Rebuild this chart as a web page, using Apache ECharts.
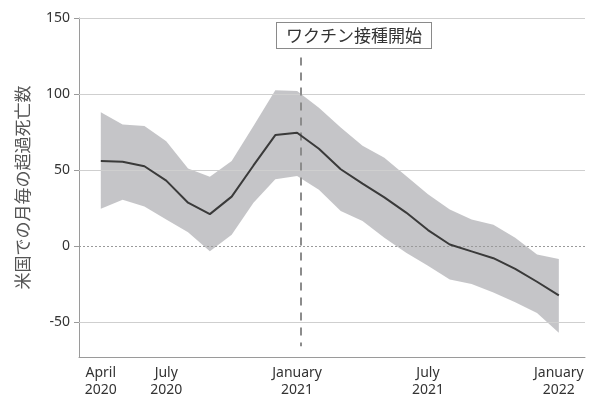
<!DOCTYPE html>
<html>
<head>
<meta charset="utf-8">
<script src="https://cdn.jsdelivr.net/npm/echarts@6/dist/echarts.min.js"></script>
<style>
html,body{margin:0;padding:0;background:#fff;}
#chart{width:590px;height:398px;}
</style>
</head>
<body>
<div id="chart"></div>
<script>
// months from April 2020 to January 2022 (position index = order in this list)
const months = ['2020-04','2020-05','2020-06','2020-07','2020-08','2020-09','2020-10','2020-11','2020-12',
                '2021-01','2021-02','2021-03','2021-04','2021-05','2021-06','2021-07','2021-08','2021-09',
                '2021-10','2021-11','2021-12','2022-01'];
const meanValues  = [56, 55.5, 52.5, 43, 28.5, 21, 32.5, 53, 73, 74.5, 64, 50.5, 41, 32, 22, 10.5, 1, -3.5, -8, -15, -23.5, -32.5];
const upperValues = [88, 80, 79, 69, 51, 45.5, 56, 79, 102.5, 102, 91, 78, 66, 58, 46, 34, 24, 17.5, 14, 5.5, -5.5, -8.5];
const lowerValues = [24.5, 30.5, 26, 17.5, 9, -3.5, 7.5, 28.5, 44, 46, 37, 23, 16.5, 5.5, -4.5, -13, -22, -25, -30.5, -37, -44, -57];
const tickMonths  = ['2020-04','2020-07','2021-01','2021-07','2022-01'];
const tickLabels  = ['April\n2020','July\n2020','January\n2021','July\n2021','January\n2022'];
const yTicks      = [-50, 0, 50, 100, 150];
const vaccineMonthPos = 9.15; // position of the vaccination start marker (month index)
const vaccineLabel = 'ワクチン接種開始';
const yAxisTitle = '米国での月毎の超過死亡数';

const idx = m => months.indexOf(m);
const bandRows  = months.map((m, i) => [i, lowerValues[i], upperValues[i]]);
const meanData  = months.map((m, i) => [i, meanValues[i]]);
const tickPos   = tickMonths.map(idx);

const font = '"Noto Sans", "Noto Sans CJK JP", sans-serif';
const chart = echarts.init(document.getElementById('chart'), null, {renderer: 'canvas'});
chart.setOption({
  animation: false,
  grid: {left: 79, right: 5, top: 18, bottom: 41, containLabel: false, outerBoundsMode: 'none'},
  xAxis: {
    type: 'value', min: -1, max: 22.2,
    axisLine: {show: true, onZero: false, lineStyle: {color: '#9a9a9a', width: 1}},
    axisTick: {show: false},
    splitLine: {show: false},
    axisLabel: {
      customValues: tickPos,
      formatter: v => tickLabels[tickPos.indexOf(Math.round(v))] || '',
      color: '#333', fontSize: 14, fontFamily: font, lineHeight: 17, margin: 8, align: 'center'
    }
  },
  yAxis: {
    type: 'value', min: -73, max: 150,
    name: yAxisTitle, nameLocation: 'middle', nameRotate: 90, nameGap: 46,
    nameTextStyle: {color: '#555', fontSize: 17, fontFamily: font},
    axisLine: {show: true, onZero: false, lineStyle: {color: '#9a9a9a', width: 1}},
    axisTick: {show: true, customValues: yTicks, length: 5, lineStyle: {color: '#9a9a9a'}},
    splitLine: {show: false},
    axisLabel: {customValues: yTicks, color: '#333', fontSize: 14, fontFamily: font, margin: 9}
  },
  graphic: [{
    type: 'text', left: 276, top: 22, z: 100,
    style: {
      text: vaccineLabel, fill: '#333', font: '17px "Noto Sans CJK JP", sans-serif',
      backgroundColor: '#fff', borderColor: '#8a8a8a', borderWidth: 1, padding: [4, 9, 4, 9]
    }
  }],
  series: [
    {
      type: 'custom', silent: true, z: 2,
      data: [0],
      renderItem: function (params, api) {
        const top = bandRows.map(r => api.coord([r[0], r[2]]));
        const bottom = bandRows.slice().reverse().map(r => api.coord([r[0], r[1]]));
        return {
          type: 'polygon',
          shape: {points: top.concat(bottom)},
          style: {fill: 'rgba(140,140,146,0.5)'}
        };
      },
      clip: true
    },
    {
      type: 'line', data: meanData, symbol: 'none', z: 5,
      lineStyle: {color: '#3a3a3a', width: 2},
      markLine: {
        silent: true, symbol: 'none', label: {show: false},
        data: [
          {yAxis: -50, lineStyle: {color: '#cfcfcf', width: 1, type: 'solid'}},
          {yAxis: 50, lineStyle: {color: '#cfcfcf', width: 1, type: 'solid'}},
          {yAxis: 100, lineStyle: {color: '#cfcfcf', width: 1, type: 'solid'}},
          {yAxis: 150, lineStyle: {color: '#cfcfcf', width: 1, type: 'solid'}},
          {yAxis: 0, lineStyle: {color: '#9a9a9a', width: 1, type: [2, 2]}},
          [
            {coord: [vaccineMonthPos, 124], lineStyle: {color: '#8c8c8c', width: 2, type: [8, 7]}},
            {coord: [vaccineMonthPos, -66]}
          ]
        ]
      }
    }
  ]
});
</script>
</body>
</html>
